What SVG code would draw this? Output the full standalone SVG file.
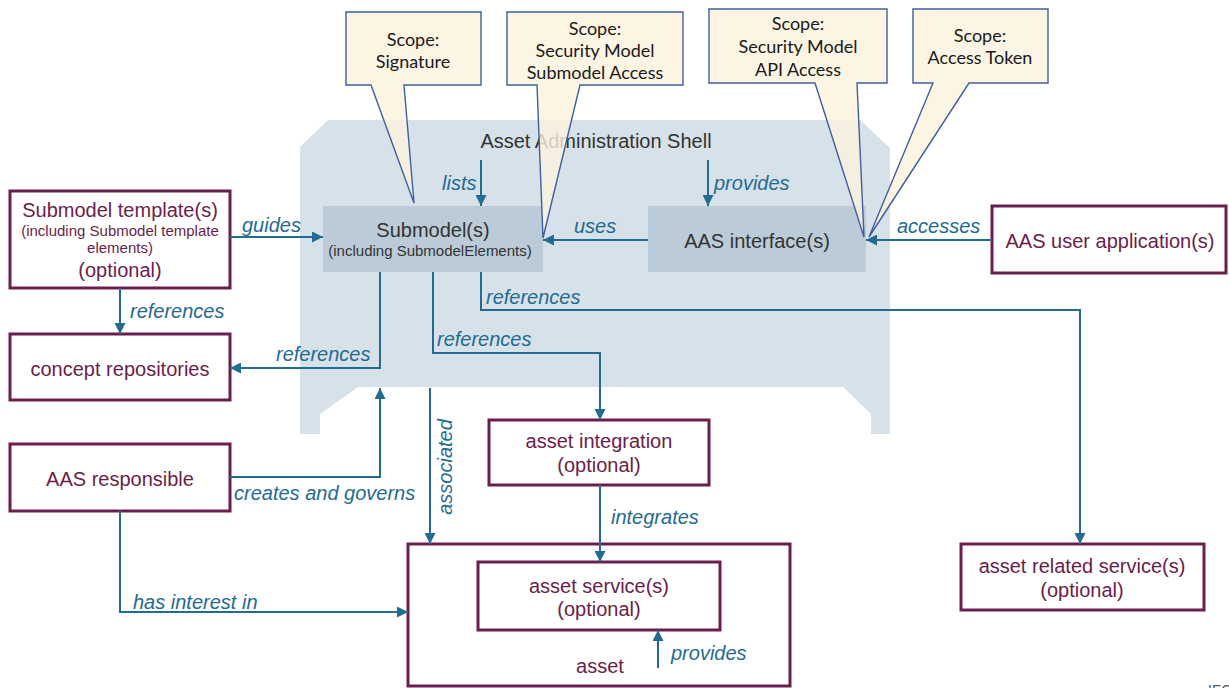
<svg xmlns="http://www.w3.org/2000/svg" width="1229" height="688" viewBox="0 0 1229 688">
  <style>
    .shell { fill: #d6e1e9; }
    .inner { fill: #bccbd8; }
    .box { fill: #ffffff; stroke: #6b1e4b; stroke-width: 3; }
    .callout { fill: #fdf3dc; fill-opacity: 0.8; stroke: #3f5fa0; stroke-width: 1.4; stroke-linejoin: miter; }
    .conn { fill: none; stroke: #236b91; stroke-width: 2; marker-end: url(#arrow); }
    .t-dark { font-family: "Liberation Sans", Arial, sans-serif; fill: #333333; text-anchor: middle; }
    .t-node { font-family: "Liberation Sans", Arial, sans-serif; fill: #6b1e4b; text-anchor: middle; }
    .t-lbl { font-family: "Liberation Sans", Arial, sans-serif; font-style: italic; font-size: 20px; fill: #236b91; }
    .t-call { font-family: "Lato", "Noto Sans", sans-serif; font-size: 18px; fill: #1a1a1a; text-anchor: middle; }
  </style>
  <defs>
    <marker id="arrow" markerUnits="userSpaceOnUse" markerWidth="11" markerHeight="11" refX="11" refY="5.5" orient="auto">
      <path d="M0,0 L11,5.5 L0,11 Z" fill="#236b91"/>
    </marker>
  </defs>

  <!-- Asset Administration Shell body -->
  <g id="aas-shell">
    <path class="shell" d="M328,120 H860 L890,148 V434 H871 V414 L843,387 H358 L320,414 V434 H300 V147 Z"/>
    <text class="t-dark" x="596" y="148" font-size="20">Asset Administration Shell</text>
  </g>

  <g id="submodels">
    <rect class="inner" x="323" y="206" width="220" height="66"/>
    <text class="t-dark" x="433" y="237" font-size="20">Submodel(s)</text>
    <text class="t-dark" x="430" y="256" font-size="15">(including SubmodelElements)</text>
  </g>

  <g id="aas-interface">
    <rect class="inner" x="648" y="206" width="218" height="66"/>
    <text class="t-dark" x="757" y="248" font-size="20">AAS interface(s)</text>
  </g>

  <g id="submodel-templates">
    <rect class="box" x="10" y="191" width="220" height="97"/>
    <text class="t-node" x="120" y="217" font-size="20">Submodel template(s)</text>
    <text class="t-node" x="120" y="236" font-size="15">(including Submodel template</text>
    <text class="t-node" x="120" y="253" font-size="15">elements)</text>
    <text class="t-node" x="120" y="277" font-size="20">(optional)</text>
  </g>

  <g id="concept-repositories">
    <rect class="box" x="10" y="334" width="220" height="66"/>
    <text class="t-node" x="120" y="376" font-size="20">concept repositories</text>
  </g>

  <g id="aas-responsible">
    <rect class="box" x="10" y="444" width="220" height="67"/>
    <text class="t-node" x="120" y="486" font-size="20">AAS responsible</text>
  </g>

  <g id="aas-user-application">
    <rect class="box" x="992" y="206" width="234" height="67"/>
    <text class="t-node" x="1110" y="248" font-size="20">AAS user application(s)</text>
  </g>

  <g id="asset-integration">
    <rect class="box" x="489" y="420" width="220" height="65"/>
    <text class="t-node" x="599" y="448" font-size="20">asset integration</text>
    <text class="t-node" x="599" y="472" font-size="20">(optional)</text>
  </g>

  <g id="asset">
    <rect class="box" x="408" y="544" width="382" height="142"/>
    <text class="t-node" x="600" y="673" font-size="20">asset</text>
  </g>

  <g id="asset-services">
    <rect class="box" x="478" y="562" width="242" height="68"/>
    <text class="t-node" x="599" y="593" font-size="20">asset service(s)</text>
    <text class="t-node" x="599" y="616" font-size="20">(optional)</text>
  </g>

  <g id="asset-related-services">
    <rect class="box" x="961" y="544" width="243" height="66"/>
    <text class="t-node" x="1082" y="573" font-size="20">asset related service(s)</text>
    <text class="t-node" x="1082" y="597" font-size="20">(optional)</text>
  </g>

  <!-- Relations -->
  <g id="connectors">
    <path class="conn" d="M481,160 V206"/>
    <path class="conn" d="M708,160 V206"/>
    <path class="conn" d="M648,240 H543"/>
    <path class="conn" d="M992,240 H866"/>
    <path class="conn" d="M230,237 H323"/>
    <path class="conn" d="M120,288 V334"/>
    <path class="conn" d="M380,272 V368 H230"/>
    <path class="conn" d="M433,272 V353 H600 V420"/>
    <path class="conn" d="M481,272 V310 H1080 V544"/>
    <path class="conn" d="M600,485 V562"/>
    <path class="conn" d="M230,477 H380 V388"/>
    <path class="conn" d="M430,388 V544"/>
    <path class="conn" d="M120,511 V612 H408"/>
    <path class="conn" d="M658,668 V630"/>

    <text class="t-lbl" x="442" y="190">lists</text>
    <text class="t-lbl" x="714" y="190">provides</text>
    <text class="t-lbl" x="574" y="233">uses</text>
    <text class="t-lbl" x="897" y="233">accesses</text>
    <text class="t-lbl" x="242" y="232">guides</text>
    <text class="t-lbl" x="130" y="318">references</text>
    <text class="t-lbl" x="276" y="361">references</text>
    <text class="t-lbl" x="437" y="346">references</text>
    <text class="t-lbl" x="486" y="304">references</text>
    <text class="t-lbl" x="611" y="524">integrates</text>
    <text class="t-lbl" x="234" y="500">creates and governs</text>
    <text class="t-lbl" x="133" y="609">has interest in</text>
    <text class="t-lbl" x="671" y="660">provides</text>
    <text class="t-lbl" transform="translate(452,467) rotate(-90)" text-anchor="middle">associated</text>
  </g>

  <!-- Scope callouts -->
  <g id="scope-signature">
    <path class="callout" d="M346,12 H481 V85 H404 L414,203 L371,85 H346 Z"/>
    <text class="t-call" x="413" y="46">Scope:</text>
    <text class="t-call" x="413" y="68">Signature</text>
  </g>

  <g id="scope-submodel-access">
    <path class="callout" d="M507,12 H683 V85 H580 L543,238 L537,85 H507 Z"/>
    <text class="t-call" x="595" y="35">Scope:</text>
    <text class="t-call" x="595" y="57">Security Model</text>
    <text class="t-call" x="595" y="79">Submodel Access</text>
  </g>

  <g id="scope-api-access">
    <path class="callout" d="M709,9 H887 V83 H857 L864,237 L815,83 H709 Z"/>
    <text class="t-call" x="798" y="30">Scope:</text>
    <text class="t-call" x="798" y="53">Security Model</text>
    <text class="t-call" x="798" y="76">API Access</text>
  </g>

  <g id="scope-access-token">
    <path class="callout" d="M913,9 H1048 V83 H969 L869,237 L933,83 H913 Z"/>
    <text class="t-call" x="980" y="42">Scope:</text>
    <text class="t-call" x="980" y="64">Access Token</text>
  </g>

  <text x="1208" y="695" font-family="Liberation Sans, Arial, sans-serif" font-size="14" fill="#555555">IEC</text>
</svg>
